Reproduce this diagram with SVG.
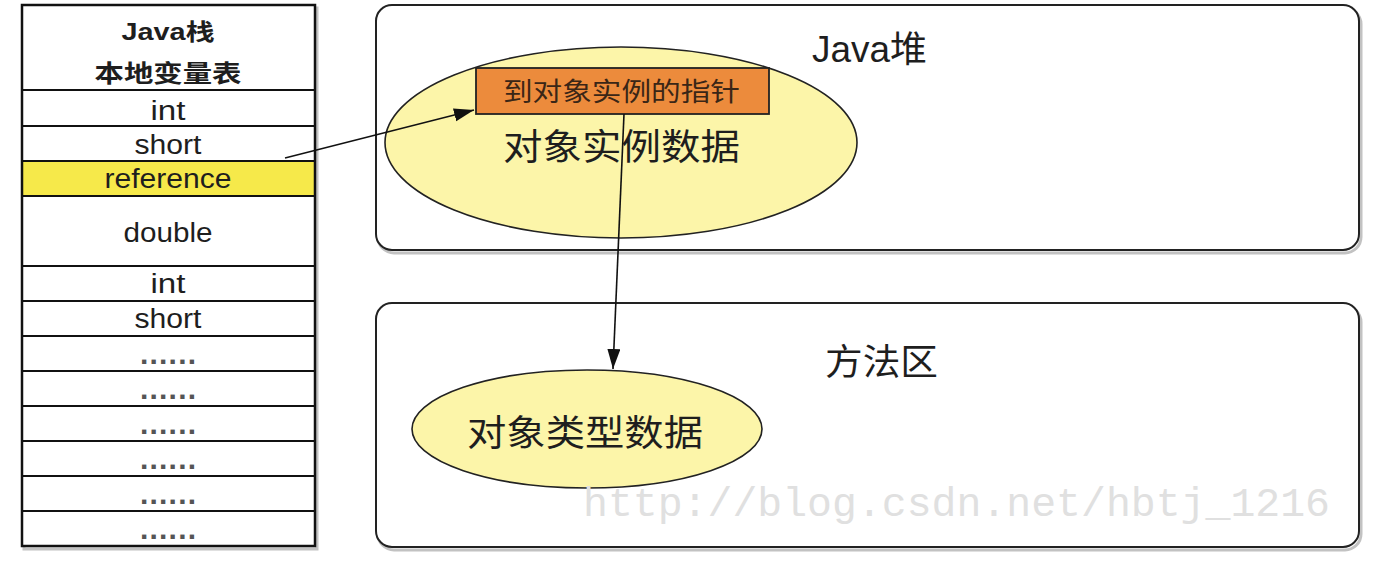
<svg xmlns="http://www.w3.org/2000/svg" width="1380" height="570" viewBox="0 0 1380 570">
<defs>
<style>
.sans{font-family:"Liberation Sans",Arial,"Noto Sans CJK SC",sans-serif;fill:#1e1e1e}
.cjk{font-family:"Liberation Sans","Noto Sans CJK SC",sans-serif;fill:#1e1e1e}
.cell{fill:#ffffff;stroke:#111;stroke-width:2}
.row{font-size:27px;text-anchor:middle}
.dots{font-size:30px;font-weight:bold;text-anchor:middle;fill:#555}
.panel{fill:#ffffff;stroke:#222;stroke-width:2}
.shadow{fill:none;stroke:#9a9a9a;stroke-width:3;opacity:0.6}
.oval{fill:#FCF5A9;stroke:#222;stroke-width:1.6}
.conn{stroke:#111;stroke-width:1.6;fill:none}
</style>
<marker id="ah" markerUnits="userSpaceOnUse" markerWidth="22" markerHeight="14" refX="20" refY="6.5" orient="auto">
<path d="M0,0 L20,6.5 L0,13 z" fill="#111"/>
</marker>
</defs>
<rect width="1380" height="570" fill="#ffffff"/>

<g id="java-stack">
<rect x="24" y="8" width="293" height="541" class="shadow"/>
<rect x="22" y="5" width="293" height="85" class="cell"/>
<rect x="22" y="90" width="293" height="36" class="cell"/>
<rect x="22" y="126" width="293" height="35" class="cell"/>
<rect x="22" y="161" width="293" height="35" fill="#F6E94A" stroke="#111" stroke-width="2"/>
<rect x="22" y="196" width="293" height="70" class="cell"/>
<rect x="22" y="266" width="293" height="35" class="cell"/>
<rect x="22" y="301" width="293" height="35" class="cell"/>
<rect x="22" y="336" width="293" height="35" class="cell"/>
<rect x="22" y="371" width="293" height="35" class="cell"/>
<rect x="22" y="406" width="293" height="35" class="cell"/>
<rect x="22" y="441" width="293" height="35" class="cell"/>
<rect x="22" y="476" width="293" height="35" class="cell"/>
<rect x="22" y="511" width="293" height="35" class="cell"/>
<rect x="22" y="5" width="293" height="541" fill="none" stroke="#111" stroke-width="2.5"/>
<text x="168" y="40" class="cjk" font-size="23" font-weight="bold" text-anchor="middle" textLength="93" lengthAdjust="spacingAndGlyphs">Java栈</text>
<text x="168" y="82" class="cjk" font-size="24" font-weight="bold" text-anchor="middle" textLength="147" lengthAdjust="spacingAndGlyphs">本地变量表</text>
<text x="168" y="120" class="sans row" textLength="35" lengthAdjust="spacingAndGlyphs">int</text>
<text x="168" y="154" class="sans row" textLength="67" lengthAdjust="spacingAndGlyphs">short</text>
<text x="168" y="188" class="sans row" textLength="127" lengthAdjust="spacingAndGlyphs">reference</text>
<text x="168" y="242" class="sans row" textLength="89" lengthAdjust="spacingAndGlyphs">double</text>
<text x="168" y="293" class="sans row" textLength="35" lengthAdjust="spacingAndGlyphs">int</text>
<text x="168" y="328" class="sans row" textLength="67" lengthAdjust="spacingAndGlyphs">short</text>
<text x="168" y="364" class="sans dots" textLength="56" lengthAdjust="spacing">......</text>
<text x="168" y="399" class="sans dots" textLength="56" lengthAdjust="spacing">......</text>
<text x="168" y="434" class="sans dots" textLength="56" lengthAdjust="spacing">......</text>
<text x="168" y="469" class="sans dots" textLength="56" lengthAdjust="spacing">......</text>
<text x="168" y="504" class="sans dots" textLength="56" lengthAdjust="spacing">......</text>
<text x="168" y="539" class="sans dots" textLength="56" lengthAdjust="spacing">......</text>
</g>

<g id="java-heap">
<rect x="378" y="8" width="983" height="245" rx="16" class="shadow"/>
<rect x="376" y="5" width="983" height="245" rx="16" class="panel"/>
<text x="812" y="62" class="cjk" font-size="36" textLength="115" lengthAdjust="spacingAndGlyphs">Java堆</text>
</g>

<g id="instance-data">
<ellipse cx="621" cy="142.5" rx="236" ry="95.5" class="oval"/>
<text x="503" y="160" class="cjk" font-size="36" textLength="237" lengthAdjust="spacingAndGlyphs">对象实例数据</text>
</g>

<g id="pointer">
<rect x="476" y="68" width="293" height="46" fill="#EC8B3C" stroke="#222" stroke-width="1.8"/>
<text x="503" y="101" class="cjk" font-size="26" textLength="237" lengthAdjust="spacingAndGlyphs" style="fill:#3a2616">到对象实例的指针</text>
</g>

<g id="method-area">
<rect x="378" y="306" width="983" height="244" rx="16" class="shadow"/>
<rect x="376" y="303" width="983" height="244" rx="16" class="panel"/>
<text x="825" y="375" class="cjk" font-size="36" textLength="113" lengthAdjust="spacingAndGlyphs">方法区</text>
</g>

<g id="type-data">
<ellipse cx="587" cy="429" rx="175" ry="59" class="oval"/>
<text x="467" y="446" class="cjk" font-size="36" textLength="236" lengthAdjust="spacingAndGlyphs">对象类型数据</text>
</g>

<g id="connectors">
<line x1="285" y1="158" x2="474" y2="110" class="conn" marker-end="url(#ah)"/>
<line x1="624" y1="114" x2="613" y2="369" class="conn" marker-end="url(#ah)"/>
</g>

<g id="watermark">
<text x="583" y="516" font-family="'Liberation Mono','Liberation Serif',monospace" font-size="41" fill="#e0e0e0" textLength="747" lengthAdjust="spacingAndGlyphs">http://blog.csdn.net/hbtj_1216</text>
</g>
</svg>
